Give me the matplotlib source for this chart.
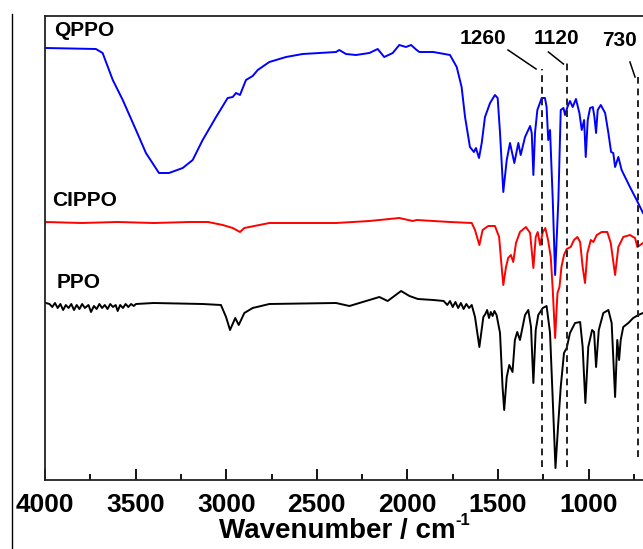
import matplotlib
matplotlib.use("Agg")
import matplotlib.pyplot as plt
from matplotlib.lines import Line2D
from matplotlib.ticker import MultipleLocator

plt.rcParams['font.family'] = ['Liberation Sans', 'DejaVu Sans']
plt.rcParams['font.weight'] = 'bold'

# ---------------- data (wavenumber, offset transmittance, a.u.) ----------------
qppo_wn = [3995, 3719, 3682, 3626, 3571, 3498, 3443, 3371, 3316, 3240, 3185, 3130, 3056,
           2992, 2964, 2946, 2924, 2891, 2854, 2826, 2762, 2670, 2578, 2486, 2394, 2376,
           2339, 2284, 2210, 2164, 2128, 2081, 2045, 2008, 1980, 1949, 1934, 1857, 1765,
           1728, 1701, 1682, 1655, 1633, 1622, 1605, 1590, 1572, 1544, 1517, 1502, 1489,
           1471, 1452, 1434, 1410, 1388, 1375, 1351, 1323, 1314, 1305, 1296, 1283, 1259,
           1241, 1232, 1223, 1213, 1198, 1185, 1167, 1154, 1139, 1130, 1117, 1103, 1088,
           1070, 1051, 1038, 1025, 1016, 1005, 992, 977, 968, 959, 950, 933, 909, 891,
           876, 864, 854, 836, 818, 772, 735, 700]
qppo_t = [432, 431, 427, 400, 380, 350, 327, 307, 307, 312, 320, 340, 363,
          382, 383, 387, 385, 400, 404, 410, 418, 423, 426, 427, 428, 430,
          426, 425, 427, 431, 423, 427, 435, 433, 435, 430, 428, 428, 425,
          413, 393, 363, 333, 328, 332, 322, 337, 363, 377, 385, 382, 347,
          288, 320, 337, 317, 337, 325, 343, 354, 347, 305, 347, 370, 382,
          382, 373, 340, 350, 280, 205, 280, 370, 372, 365, 373, 379, 373,
          381, 367, 350, 360, 323, 360, 372, 373, 363, 347, 370, 375, 367, 347,
          328, 327, 313, 323, 310, 293, 280, 267]

cippo_wn = [3995, 3800, 3600, 3400, 3200, 3100, 3019, 2964, 2924, 2900, 2872, 2845, 2762,
            2394, 2210, 2045, 1971, 1949, 1765, 1645, 1627, 1603, 1585, 1554, 1517, 1494,
            1480, 1471, 1456, 1444, 1429, 1416, 1401, 1379, 1346, 1323, 1305, 1292, 1281,
            1268, 1253, 1239, 1224, 1209, 1198, 1185, 1172, 1161, 1150, 1136, 1121, 1099,
            1081, 1062, 1047, 1033, 1020, 1007, 988, 974, 955, 928, 897, 878, 854, 836,
            809, 772, 744, 731, 700]
cippo_t = [258, 257, 258, 257, 258, 258, 255, 252, 248, 252, 253, 254, 257,
           257, 259, 262, 259, 260, 258, 257, 250, 235, 250, 254, 254, 243,
           213, 195, 213, 222, 225, 218, 237, 248, 253, 247, 212, 243, 248,
           235, 248, 252, 240, 223, 190, 142, 187, 193, 213, 225, 231, 233,
           240, 243, 238, 213, 197, 227, 240, 238, 245, 248, 248, 237, 205, 233,
           243, 245, 242, 233, 237]

ppo_wn = [3995, 3975, 3960, 3945, 3930, 3915, 3900, 3885, 3870, 3855, 3840, 3825, 3810,
          3795, 3780, 3760, 3746, 3730, 3715, 3700, 3685, 3670, 3655, 3640, 3625, 3610,
          3599, 3585, 3570, 3555, 3540, 3525, 3510, 3498, 3400, 3130, 3029, 3001, 2979,
          2950, 2931, 2900, 2854, 2762, 2394, 2320, 2210, 2155, 2109, 2035, 1989, 1942,
          1857, 1800, 1780, 1765, 1750, 1735, 1720, 1705, 1690, 1675, 1660, 1645, 1627,
          1603, 1581, 1570, 1560, 1550, 1540, 1530, 1520, 1508, 1489, 1475, 1466, 1452,
          1438, 1420, 1407, 1394, 1379, 1351, 1333, 1318, 1305, 1292, 1278, 1253, 1232,
          1213, 1198, 1183, 1169, 1154, 1136, 1121, 1103, 1075, 1047, 1033, 1018, 1002,
          981, 970, 959, 944, 919, 891, 873, 854, 842, 832, 823, 809, 781, 754, 726, 700]
ppo_t = [177, 176, 173, 177, 172, 176, 170, 175, 172, 176, 170, 175, 171,
         176, 172, 175, 168, 174, 171, 176, 172, 175, 171, 176, 173, 175,
         169, 175, 172, 176, 173, 176, 174, 176, 177, 176, 175, 163, 150,
         162, 155, 167, 172, 176, 177, 174, 180, 183, 179, 189, 184, 181,
         180, 179, 175, 179, 173, 178, 172, 177, 171, 176, 172, 175, 163,
         133, 163, 166, 170, 162, 168, 164, 169, 165, 147, 93, 70, 103,
         115, 108, 140, 148, 140, 165, 170, 153, 97, 150, 165, 172, 174,
         147, 80, 12, 53, 93, 127, 132, 147, 157, 158, 133, 77, 133,
         150, 148, 113, 150, 167, 170, 157, 83, 140, 120, 140, 153, 157, 162, 165, 167]

series_names = ['QPPO', 'CIPPO', 'PPO']
series_colors = ['#0000ff', '#ff0000', '#000000']

marker_wn = [1260, 1120, 730]
marker_labels = ['1260', '1120', '730']

x_ticks = [4000, 3500, 3000, 2500, 2000, 1500, 1000]

# ---------------- figure ----------------
W, H = 643, 549
fig = plt.figure(figsize=(W / 100, H / 100), dpi=100)
ax = fig.add_axes([45 / W, 69 / H, (643 - 45) / W, 464 / H])

for wn, t, c in zip([qppo_wn, cippo_wn, ppo_wn], [qppo_t, cippo_t, ppo_t], series_colors):
    ax.plot(wn, t, color=c, lw=1.4)

ax.set_xlim(4000, 700)
ax.set_ylim(0, 464)

# dashed marker lines
dash_ranges = [(13, 411), (13, 417), (23, 403)]
for wn, (y0, y1) in zip(marker_wn, dash_ranges):
    ax.plot([wn, wn], [y0, y1], color='#222222', lw=1.4, ls=(0, (3.5, 2.5)))

# leader lines
leaders = [((1445, 430), (1290, 411)), ((1222, 428), (1139, 416)), ((772, 418), (744, 403))]
for (x0, y0), (x1, y1) in leaders:
    ax.plot([x0, x1], [y0, y1], color='black', lw=1.1)

label_pos = [(1585, 442), (1180, 442), (827, 440)]
for (x, y), s in zip(label_pos, marker_labels):
    ax.text(x, y, s, ha='center', va='center', fontsize=15, fontweight='bold')

name_pos = [(3950, 449), (3961, 280), (3934, 197)]
for (x, y), s in zip(name_pos, series_names):
    ax.text(x, y, s, ha='left', va='center', fontsize=15, fontweight='bold')

ax.set_xticks(x_ticks)
ax.set_xticklabels([str(v) for v in x_ticks])
ax.xaxis.set_minor_locator(MultipleLocator(250))
ax.set_yticks([])
ax.tick_params(axis='x', which='major', direction='in', length=8, width=1.3,
               labelsize=19, pad=9)
ax.tick_params(axis='x', which='minor', direction='in', length=4, width=1.3)
for lab in ax.get_xticklabels():
    lab.set_fontweight('bold')

ax.spines['right'].set_visible(False)
for side in ['left', 'bottom', 'top']:
    ax.spines[side].set_linewidth(1.3)
    ax.spines[side].set_color('#222222')

ax.set_xlabel('Wavenumber / cm', fontsize=20, fontweight='bold', labelpad=1)
ax.xaxis.label.set_x(0.488)
ax.annotate('-1', xy=(1, 1), xycoords=ax.xaxis.label, xytext=(0.5, 3.5),
            textcoords='offset points', ha='left', va='top',
            fontsize=12, fontweight='bold')

# thin frame line at the far left
fig.add_artist(Line2D([12 / W, 12 / W], [0, 1 - 14 / H], transform=fig.transFigure,
                      color='black', lw=1.0))

fig.savefig('out.png', dpi=100)
